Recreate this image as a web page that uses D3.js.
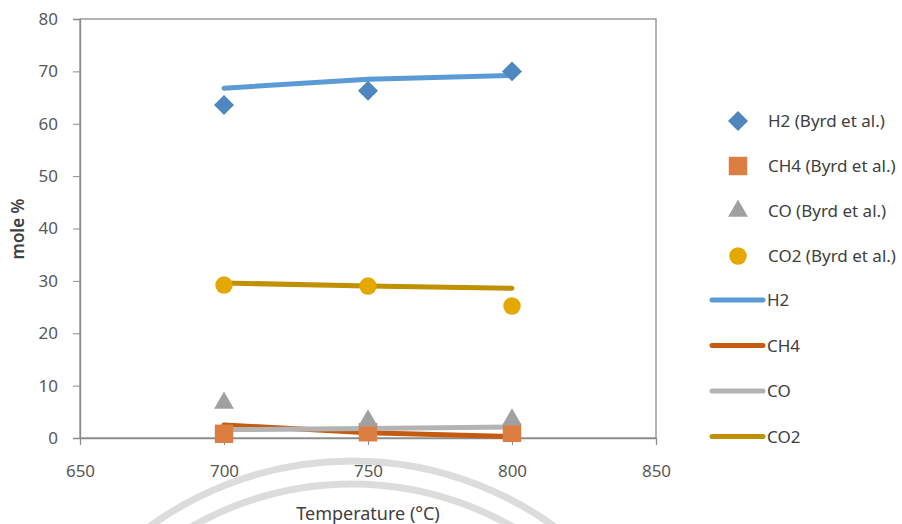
<!DOCTYPE html>
<html>
<head>
<meta charset="utf-8">
<script src="https://cdn.jsdelivr.net/npm/d3@7"></script>
<style>
  body { margin: 0; background: #fff; }
  svg text { font-family: "Noto Sans", "DejaVu Sans", sans-serif; }
</style>
</head>
<body>
<svg id="chart" width="902" height="524"></svg>
<script>
// temperatures (°C)
var temps = [700, 750, 800];

// Byrd et al. (markers)
var h2Byrd  = [63.6, 66.3, 70.0];
var ch4Byrd = [0.8, 1.1, 1.0];
var coByrd  = [6.7, 3.3, 3.5];
var co2Byrd = [29.2, 29.0, 25.2];

// model (lines)
var h2Line  = [66.8, 68.5, 69.2];
var ch4Line = [2.5, 1.0, 0.3];
var coLine  = [1.6, 1.8, 2.1];
var co2Line = [29.6, 29.0, 28.6];

var xTicks = [650, 700, 750, 800, 850];
var yTicks = [0, 10, 20, 30, 40, 50, 60, 70, 80];

var svg = d3.select("#chart");
var margin = {left: 80, top: 19, right: 656, bottom: 438};

var x = d3.scaleLinear().domain([650, 850]).range([margin.left, margin.right]);
var y = d3.scaleLinear().domain([0, 80]).range([margin.bottom, margin.top]);

// faint watermark arcs at the bottom
var arcs = svg.append("g").attr("fill", "none").attr("stroke", "#dcdcdc").attr("stroke-width", 7);
arcs.append("circle").attr("cx", 352).attr("cy", 806).attr("r", 345);
arcs.append("circle").attr("cx", 352).attr("cy", 806).attr("r", 322);

// plot frame
svg.append("rect")
  .attr("x", margin.left).attr("y", margin.top)
  .attr("width", margin.right - margin.left)
  .attr("height", margin.bottom - margin.top)
  .attr("fill", "none").attr("stroke", "#8c8c8c").attr("stroke-width", 1.3);

var yAxis = svg.append("g")
  .attr("transform", "translate(" + margin.left + ",0)")
  .call(d3.axisLeft(y).tickValues(yTicks).tickSize(7).tickPadding(15));
var xAxis = svg.append("g")
  .attr("transform", "translate(0," + margin.bottom + ")")
  .call(d3.axisBottom(x).tickValues(xTicks).tickSize(7).tickPadding(20));

[yAxis, xAxis].forEach(function (g) {
  g.select(".domain").attr("stroke", "#8c8c8c").attr("stroke-width", 1.3);
  g.selectAll(".tick line").attr("stroke", "#8c8c8c");
  g.selectAll(".tick text").attr("fill", "#595959").attr("font-size", 17)
    .style("font-family", "'Noto Sans', 'DejaVu Sans', sans-serif");
});

svg.append("text")
  .attr("transform", "translate(24,229) rotate(-90)")
  .attr("text-anchor", "middle")
  .attr("font-size", 17).attr("font-weight", 600).attr("fill", "#404040")
  .text("mole %");

svg.append("text")
  .attr("x", 368).attr("y", 520)
  .attr("text-anchor", "middle")
  .attr("font-size", 18).attr("fill", "#404040")
  .text("Temperature (°C)");

// model lines
var lineSeries = [
  {name: "H2",  values: h2Line,  color: "#5b9bd5"},
  {name: "CH4", values: ch4Line, color: "#c55a11"},
  {name: "CO",  values: coLine,  color: "#b3b3b3"},
  {name: "CO2", values: co2Line, color: "#bf9000"}
];

var line = d3.line()
  .x(function (d, i) { return x(temps[i]); })
  .y(function (d) { return y(d); });

// marker series
var markerSeries = [
  {name: "H2 (Byrd et al.)",  values: h2Byrd,  color: "#4e86bd", shape: d3.symbolSquare, size: 200, rot: 45},
  {name: "CH4 (Byrd et al.)", values: ch4Byrd, color: "#dc7e42", shape: d3.symbolSquare, size: 340, rot: 0},
  {name: "CO (Byrd et al.)",  values: coByrd,  color: "#a0a0a0", shape: d3.symbolTriangle, size: 170, rot: 0},
  {name: "CO2 (Byrd et al.)", values: co2Byrd, color: "#e5a800", shape: d3.symbolCircle, size: 240, rot: 0}
];

function symbolPath(s) {
  return d3.symbol(s.shape, s.size)();
}

svg.append("g").selectAll("path")
  .data(lineSeries)
  .join("path")
  .attr("d", function (d) { return line(d.values); })
  .attr("fill", "none")
  .attr("stroke", function (d) { return d.color; })
  .attr("stroke-width", 5)
  .attr("stroke-linecap", "round");

markerSeries.forEach(function (s) {
  svg.append("g").selectAll("path")
    .data(s.values)
    .join("path")
    .attr("d", symbolPath(s))
    .attr("transform", function (d, i) {
      return "translate(" + x(temps[i]) + "," + y(d) + ") rotate(" + s.rot + ")";
    })
    .attr("fill", s.color);
});

// legend
var legend = svg.append("g").attr("font-size", 17).attr("fill", "#404040");
markerSeries.forEach(function (s, i) {
  var ly = 121 + i * 45;
  legend.append("path")
    .attr("d", symbolPath(s))
    .attr("transform", "translate(738," + ly + ") rotate(" + s.rot + ")")
    .attr("fill", s.color);
  legend.append("text")
    .attr("x", 768).attr("y", ly + 6)
    .text(s.name);
});
lineSeries.forEach(function (s, i) {
  var ly = 300 + i * 45.5;
  legend.append("line")
    .attr("x1", 712).attr("x2", 763)
    .attr("y1", ly).attr("y2", ly)
    .attr("stroke", s.color).attr("stroke-width", 5).attr("stroke-linecap", "round");
  legend.append("text")
    .attr("x", 767).attr("y", ly + 6)
    .text(s.name);
});
</script>
</body>
</html>
